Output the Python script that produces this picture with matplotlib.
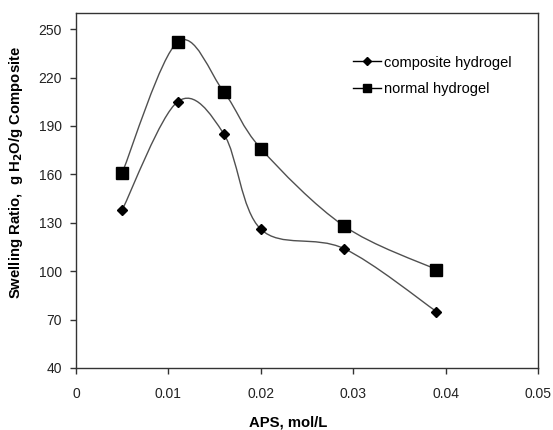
import matplotlib.pyplot as plt
import numpy as np
from matplotlib.path import Path
from matplotlib.patches import PathPatch

plt.rcParams['font.family'] = ['Liberation Sans', 'DejaVu Sans']

aps = [0.005, 0.011, 0.016, 0.020, 0.029, 0.039]
composite = [138, 205, 185, 126, 114, 75]
normal = [161, 242, 211, 176, 128, 101]

x_ticks = [0, 0.01, 0.02, 0.03, 0.04, 0.05]
y_ticks = [40, 70, 100, 130, 160, 190, 220, 250]


def smooth_path(ax, xs, ys):
    # excel-like bezier smoothing, done in axes coordinates
    pts = ax.transData.transform(np.column_stack([xs, ys]))
    pts = ax.transAxes.inverted().transform(pts)
    verts = [pts[0]]
    codes = [Path.MOVETO]
    n = len(pts)
    for i in range(n - 1):
        p0 = pts[max(i - 1, 0)]
        p1 = pts[i]
        p2 = pts[i + 1]
        p3 = pts[min(i + 2, n - 1)]
        c1 = p1 + (p2 - p0) / 6
        c2 = p2 - (p3 - p1) / 6
        verts += [c1, c2, p2]
        codes += [Path.CURVE4] * 3
    return Path(verts, codes)


fig = plt.figure(figsize=(5.53, 4.3), dpi=100)
ax = fig.add_axes([0.1374, 0.1442, 0.8356, 0.8256])
ax.set_xlim(0, 0.05)
ax.set_ylim(40, 260)

for ys in (composite, normal):
    p = smooth_path(ax, aps, ys)
    ax.add_patch(PathPatch(p, transform=ax.transAxes, facecolor='none',
                           edgecolor='#505050', lw=1.0, zorder=2))

ax.plot(aps, composite, linestyle='none', marker='D', ms=5.5, color='black', zorder=3)
ax.plot(aps, normal, linestyle='none', marker='s', ms=8, color='black', zorder=3)

# legend handles (smaller markers, like the original)
ax.plot([], [], '-', color='black', lw=1, marker='D', ms=4.5, label='composite hydrogel')
ax.plot([], [], '-', color='black', lw=1, marker='s', ms=6, label='normal hydrogel')
leg = ax.legend(loc='upper left', bbox_to_anchor=(0.571, 0.917), frameon=False,
                fontsize=10.5, handlelength=1.9, handletextpad=0.25, labelspacing=0.85)

ax.set_xticks(x_ticks)
ax.set_xticklabels(['0', '0.01', '0.02', '0.03', '0.04', '0.05'])
ax.set_yticks(y_ticks)
ax.tick_params(direction='out', length=4, width=1, colors='#333333',
               labelsize=10, labelcolor='#222222', pad=6)
ax.tick_params(axis='x', pad=10)
for s in ax.spines.values():
    s.set_color('#333333')
    s.set_linewidth(1)

ax.set_xlabel('APS, mol/L', fontweight='bold', fontsize=10.7, labelpad=11)
ax.set_ylabel(r'Swelling Ratio,  g H$_\mathbf{2}$O/g Composite', fontweight='bold',
              fontsize=10.7, labelpad=5)
ax.xaxis.set_label_coords(0.46, -0.135)
ax.yaxis.set_label_coords(-0.11, 0.55)

plt.savefig('out.png', dpi=100)
